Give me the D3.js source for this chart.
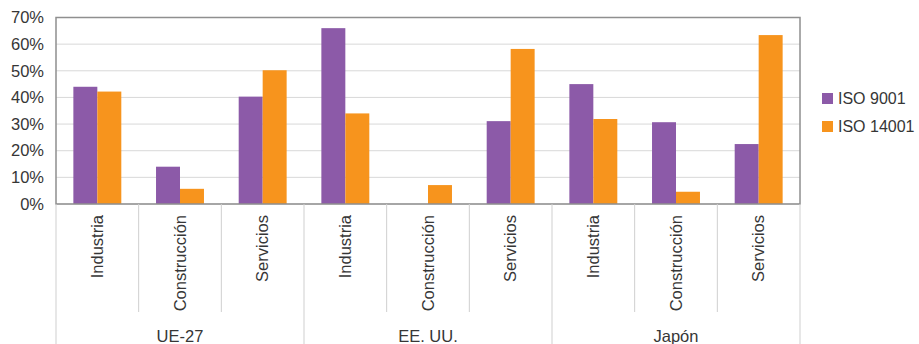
<!DOCTYPE html>
<html>
<head>
<meta charset="utf-8">
<script src="https://cdn.jsdelivr.net/npm/d3@7"></script>
<style>
  html, body { margin: 0; padding: 0; background: #fff; }
  svg { display: block; font-family: "Liberation Sans", Arial, sans-serif; }
</style>
</head>
<body>
<svg id="chart" width="919" height="344"></svg>
<script>
// Regions and the sectors inside each
const groups = ["UE-27", "EE. UU.", "Japón"];
const sectors = ["Industria", "Construcción", "Servicios"];
const seriesNames = ["ISO 9001", "ISO 14001"];
// Share of certified firms per region/sector (percent), in groups × sectors order
const iso9001 = [44, 14, 40.3, 66, 0, 31.1, 45, 30.7, 22.5];
const iso14001 = [42.2, 5.7, 50.2, 34, 7.1, 58.2, 31.9, 4.6, 63.4];
const yTicks = [0, 10, 20, 30, 40, 50, 60, 70];
const colors = ["#8c5aa8", "#f7941d"];

const svg = d3.select("#chart");
const m = { left: 56, top: 17.5, right: 800, bottom: 204 };
const labelSize = 16.5;

const rows = [];
groups.forEach((g, gi) => sectors.forEach((s, si) => {
  const i = gi * sectors.length + si;
  rows.push({ key: g + "|" + s, group: g, sector: s, values: [iso9001[i], iso14001[i]] });
}));

const x = d3.scaleBand().domain(rows.map(d => d.key)).range([m.left, m.right]).padding(0);
const bw = x.bandwidth();
const xs = d3.scaleBand().domain(seriesNames).range([bw * 0.21, bw * 0.79]).padding(0);
const y = d3.scaleLinear().domain([0, 70]).range([m.bottom, m.top]);

// Horizontal gridlines
svg.append("g")
  .selectAll("line").data(yTicks).join("line")
  .attr("x1", m.left).attr("x2", m.right)
  .attr("y1", d => y(d)).attr("y2", d => y(d))
  .attr("stroke", "#d9d9d9").attr("stroke-width", 1);

// Y axis labels
const yAxis = d3.axisLeft(y).tickValues(yTicks).tickSize(0).tickPadding(12)
  .tickFormat(d => d + "%");
const ya = svg.append("g").attr("transform", `translate(${m.left},0)`).call(yAxis);
ya.select(".domain").remove();
ya.selectAll("text").attr("font-size", labelSize).attr("fill", "#363636")
  .attr("font-family", "Liberation Sans, Arial, sans-serif");

// Bars
const cat = svg.append("g").selectAll("g").data(rows).join("g")
  .attr("transform", d => `translate(${x(d.key)},0)`);
cat.selectAll("rect")
  .data(d => d.values.map((v, i) => ({ name: seriesNames[i], v, i })))
  .join("rect")
  .attr("x", d => xs(d.name))
  .attr("width", xs.bandwidth())
  .attr("y", d => y(d.v))
  .attr("height", d => y(0) - y(d.v))
  .attr("fill", d => colors[d.i]);

// Plot frame
svg.append("rect")
  .attr("x", m.left).attr("y", m.top)
  .attr("width", m.right - m.left).attr("height", m.bottom - m.top)
  .attr("fill", "none").attr("stroke", "#8f8f8f").attr("stroke-width", 1.5);

// Category separators below the axis
const sep = svg.append("g").attr("stroke", "#cfcfcf").attr("stroke-width", 1);
rows.forEach((d, i) => {
  const isGroupEdge = i % sectors.length === 0;
  sep.append("line")
    .attr("x1", x(d.key)).attr("x2", x(d.key))
    .attr("y1", m.bottom).attr("y2", isGroupEdge ? 344 : 312);
});
sep.append("line").attr("x1", m.right).attr("x2", m.right).attr("y1", m.bottom).attr("y2", 344);

// Sector labels (rotated)
svg.append("g").selectAll("text").data(rows).join("text")
  .attr("transform", d => `translate(${x(d.key) + bw / 2},215) rotate(-90)`)
  .attr("text-anchor", "end")
  .attr("dy", "0.35em")
  .attr("font-size", labelSize).attr("fill", "#363636")
  .text(d => d.sector);

// Region labels
svg.append("g").selectAll("text").data(groups).join("text")
  .attr("x", (g, gi) => {
    const a = x(rows[gi * sectors.length].key);
    const b = x(rows[gi * sectors.length + sectors.length - 1].key) + bw;
    return (a + b) / 2;
  })
  .attr("y", 342)
  .attr("text-anchor", "middle")
  .attr("font-size", labelSize).attr("fill", "#363636")
  .text(g => g);

// Legend
const leg = svg.append("g").selectAll("g").data(seriesNames).join("g")
  .attr("transform", (d, i) => `translate(822,${93 + i * 28})`);
leg.append("rect").attr("width", 11).attr("height", 11).attr("fill", (d, i) => colors[i]);
leg.append("text").attr("x", 16).attr("y", 5.5).attr("dy", "0.35em")
  .attr("font-size", 16).attr("fill", "#363636").text(d => d);
</script>
</body>
</html>
